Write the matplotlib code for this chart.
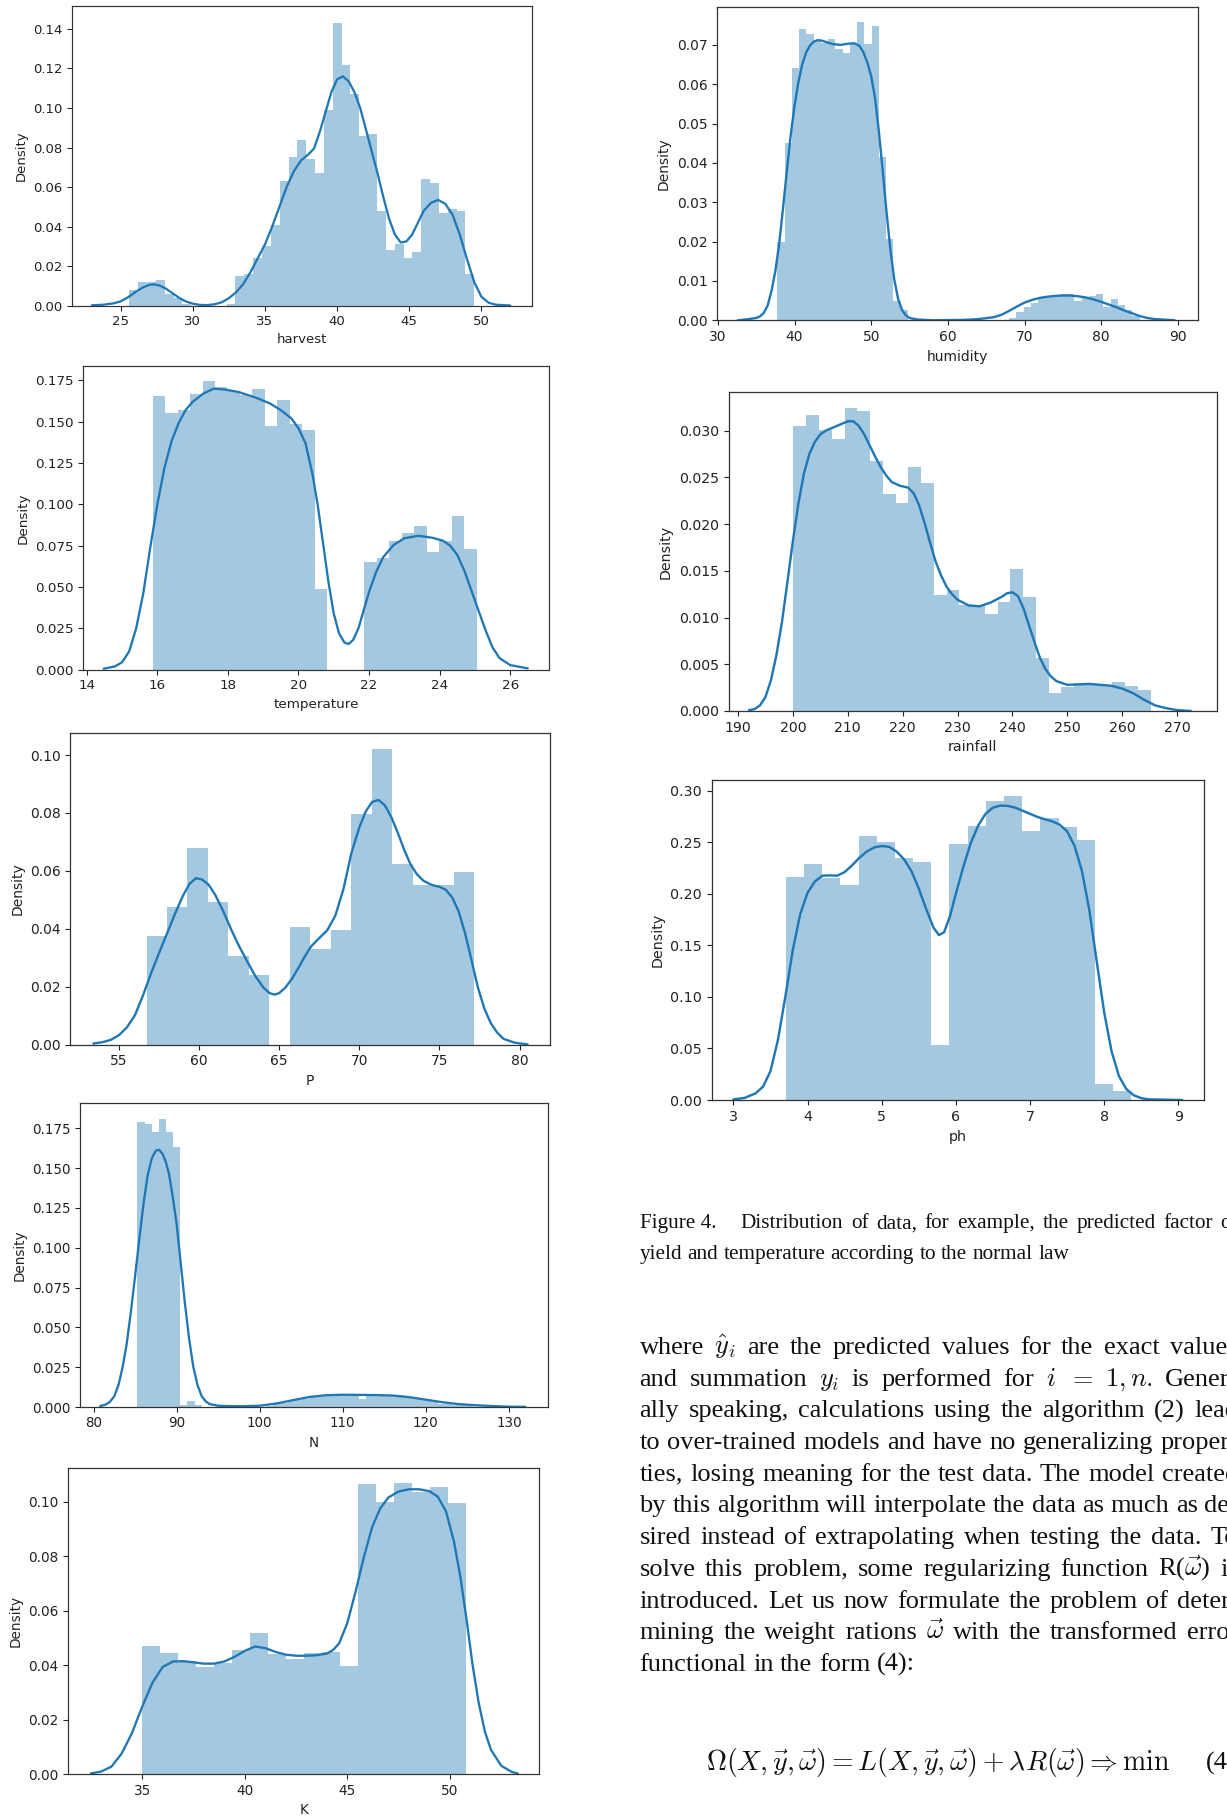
import matplotlib
matplotlib.use("Agg")
import matplotlib.pyplot as plt

plt.rcParams["mathtext.fontset"] = "cm"

W, H = 1227, 1817
BLUE = "#1f77b4"

# ---------------- histogram + KDE data (density units) ----------------
harvest_bin_start = 25.6
harvest_bin_width = 0.613
harvest_density = [0.008, 0.012, 0.012, 0.013, 0.006, 0.004, 0.001, 0, 0, 0,
                   0, 0.001, 0.015, 0.016, 0.024, 0.030, 0.041, 0.063, 0.075, 0.084,
                   0.074, 0.067, 0.099, 0.143, 0.122, 0.107, 0.086, 0.087, 0.048, 0.028,
                   0.031, 0.024, 0.027, 0.064, 0.062, 0.047, 0.049, 0.048, 0.016]
harvest_kde_x = [23.0, 23.8, 24.5, 25.0, 25.5, 26.0, 26.5, 27.0, 27.3, 27.7, 28.1, 28.5,
                 29.0, 29.5, 30.0, 30.5, 31.0, 31.5, 32.0, 32.5, 33.0, 33.5, 34.0, 34.5,
                 35.0, 35.5, 36.0, 36.5, 37.0, 37.5, 38.0, 38.4, 38.8, 39.2, 39.6, 40.0,
                 40.4, 40.8, 41.2, 41.6, 42.0, 42.4, 42.8, 43.2, 43.6, 44.0, 44.4, 44.8,
                 45.2, 45.6, 46.0, 46.5, 47.0, 47.5, 48.0, 48.5, 49.0, 49.5, 50.0, 50.5,
                 51.0, 52.0]
harvest_kde_y = [0.0002, 0.0005, 0.0012, 0.0022, 0.0042, 0.0068, 0.0091, 0.0106, 0.0108,
                 0.0102, 0.0088, 0.0068, 0.0042, 0.0022, 0.0010, 0.0004, 0.0003, 0.0007,
                 0.0017, 0.0038, 0.0068, 0.011, 0.017, 0.024, 0.031, 0.040, 0.050, 0.060,
                 0.068, 0.0735, 0.0765, 0.0795, 0.088, 0.098, 0.108, 0.1145, 0.116, 0.1135,
                 0.108, 0.100, 0.089, 0.078, 0.067, 0.055, 0.044, 0.036, 0.032, 0.0325,
                 0.036, 0.042, 0.048, 0.052, 0.0535, 0.0515, 0.046, 0.036, 0.0235, 0.012,
                 0.0045, 0.0015, 0.0005, 0.0001]
harvest_xticks = [25, 30, 35, 40, 45, 50]
harvest_yticks = [0.00, 0.02, 0.04, 0.06, 0.08, 0.10, 0.12, 0.14]

humidity_bin_start = 37.76
humidity_bin_width = 0.945
humidity_density = [0.020, 0.045, 0.064, 0.074, 0.0728, 0.071, 0.0705, 0.0715, 0.069, 0.068,
                    0.0705, 0.0757, 0.0703, 0.0747, 0.0415, 0.0207, 0.0049, 0.0027, 0, 0,
                    0, 0, 0, 0, 0, 0, 0, 0, 0, 0,
                    0, 0, 0.0005, 0.002, 0.0035, 0.0045, 0.0058, 0.0058, 0.006, 0.0067,
                    0.0068, 0.005, 0.006, 0.0062, 0.0066, 0.0033, 0.0055, 0.004, 0.0025, 0.0012]
humidity_kde_x = [32.6, 34.0, 35.0, 35.5, 36.0, 36.5, 37.0, 37.5, 38.0, 38.5, 39.0, 39.5,
                  40.0, 40.5, 41.0, 41.5, 42.0, 42.5, 43.0, 43.5, 44.0, 45.0, 46.0, 47.0,
                  47.8, 48.5, 49.0, 49.5, 50.0, 50.5, 51.0, 51.5, 52.0, 52.5, 53.0, 53.5,
                  54.0, 54.5, 55.0, 56.0, 58.0, 62.0, 64.0, 66.0, 67.0, 68.0, 69.0, 70.0,
                  71.0, 72.0, 73.0, 74.0, 75.0, 76.0, 77.0, 78.0, 79.0, 80.0, 81.0, 82.0,
                  83.0, 84.0, 85.0, 86.0, 87.0, 88.0, 89.6]
humidity_kde_y = [0.0, 0.0003, 0.0006, 0.001, 0.0019, 0.0038, 0.0075, 0.0125, 0.0195,
                  0.0285, 0.038, 0.047, 0.0545, 0.0605, 0.065, 0.068, 0.0698, 0.0708, 0.0712,
                  0.0711, 0.0708, 0.0702, 0.0700, 0.0703, 0.0704, 0.0697, 0.068, 0.0655,
                  0.062, 0.0565, 0.048, 0.038, 0.0275, 0.018, 0.0105, 0.0055, 0.0027,
                  0.0013, 0.0006, 0.0002, 0.0, 0.0001, 0.0003, 0.0008, 0.0014, 0.0024,
                  0.0035, 0.0045, 0.0052, 0.0057, 0.006, 0.0062, 0.0063, 0.0063, 0.0061,
                  0.0058, 0.0053, 0.0047, 0.004, 0.0033, 0.0025, 0.0018, 0.0011, 0.0006,
                  0.0003, 0.0002, 0.0]
humidity_xticks = [30, 40, 50, 60, 70, 80, 90]
humidity_yticks = [0.00, 0.01, 0.02, 0.03, 0.04, 0.05, 0.06, 0.07]

temperature_bin_start = 15.87
temperature_bin_width = 0.353
temperature_density = [0.1655, 0.1554, 0.157, 0.167, 0.1746, 0.1708, 0.1688, 0.166, 0.1696,
                       0.1476, 0.163, 0.1486, 0.1452, 0.0486, 0, 0, 0, 0.0653, 0.0675,
                       0.0778, 0.0829, 0.0871, 0.0712, 0.0778, 0.0929, 0.0728]
temperature_kde_x = [14.48, 14.8, 15.0, 15.2, 15.4, 15.6, 15.8, 16.0, 16.2, 16.4, 16.6,
                     16.8, 17.0, 17.3, 17.6, 17.9, 18.3, 18.8, 19.2, 19.5, 19.8, 20.0,
                     20.2, 20.4, 20.55, 20.7, 20.85, 21.0, 21.15, 21.3, 21.42, 21.55, 21.7,
                     21.85, 22.0, 22.2, 22.4, 22.7, 23.0, 23.4, 23.8, 24.1, 24.3, 24.5,
                     24.7, 24.9, 25.1, 25.3, 25.5, 25.7, 26.0, 26.5]
temperature_kde_y = [0.0006, 0.002, 0.0045, 0.011, 0.025, 0.046, 0.074, 0.100, 0.122,
                     0.138, 0.149, 0.157, 0.162, 0.167, 0.170, 0.1695, 0.168, 0.1645, 0.161,
                     0.157, 0.152, 0.146, 0.137, 0.118, 0.099, 0.076, 0.053, 0.034, 0.022,
                     0.0165, 0.0155, 0.018, 0.025, 0.036, 0.047, 0.059, 0.068, 0.0755,
                     0.0795, 0.081, 0.0798, 0.078, 0.075, 0.0695, 0.060, 0.048, 0.036, 0.024,
                     0.0135, 0.007, 0.0028, 0.0008]
temperature_xticks = [14, 16, 18, 20, 22, 24, 26]
temperature_yticks = [0.000, 0.025, 0.050, 0.075, 0.100, 0.125, 0.150, 0.175]

rainfall_bin_start = 200.1
rainfall_bin_width = 2.325
rainfall_density = [0.0305, 0.0317, 0.0301, 0.0291, 0.0324, 0.0321, 0.0268, 0.0232, 0.0223,
                    0.0261, 0.0244, 0.0124, 0.0130, 0.0113, 0.0113, 0.0104, 0.0117, 0.0152,
                    0.0122, 0.0057, 0.0019, 0.0026, 0.0029, 0.0029, 0.0027, 0.0031, 0.0027,
                    0.0022]
rainfall_kde_x = [192, 193, 194, 195, 196, 197, 198, 199, 200, 201, 202, 203, 204, 205, 206,
                  208, 210, 211, 212, 213, 214, 215, 216, 217, 218, 219.5, 221, 222, 223,
                  224, 225, 226, 227, 228, 229, 230, 232, 234, 236, 238, 239, 240, 241, 242,
                  243, 244, 245, 246, 247, 248, 250, 254, 258, 260, 262, 264, 266, 268, 270,
                  272.5]
rainfall_kde_y = [0.0001, 0.0002, 0.0006, 0.0015, 0.0033, 0.006, 0.0095, 0.0138, 0.0182,
                  0.0222, 0.0254, 0.0275, 0.0288, 0.0296, 0.0300, 0.0305, 0.031, 0.031,
                  0.0305, 0.0296, 0.0284, 0.0272, 0.0261, 0.0252, 0.0245, 0.0241, 0.0239,
                  0.0233, 0.022, 0.0201, 0.018, 0.016, 0.0145, 0.0133, 0.0125, 0.0119,
                  0.0113, 0.0112, 0.0116, 0.0122, 0.0126, 0.0127, 0.0123, 0.011, 0.0092,
                  0.0074, 0.0057, 0.0045, 0.0037, 0.0032, 0.0028, 0.0029, 0.0027, 0.0024,
                  0.0019, 0.0012, 0.0006, 0.0003, 0.0001, 0.0]
rainfall_xticks = [190, 200, 210, 220, 230, 240, 250, 260, 270]
rainfall_yticks = [0.000, 0.005, 0.010, 0.015, 0.020, 0.025, 0.030]

p_bin_start = 56.72
p_bin_width = 1.278
p_density = [0.0375, 0.0474, 0.0678, 0.0494, 0.0306, 0.0242, 0, 0.0405, 0.0331, 0.0396,
             0.0795, 0.1022, 0.0623, 0.055, 0.055, 0.0597]
p_kde_x = [53.4, 54.0, 54.5, 55.0, 55.5, 56.0, 56.5, 57.0, 57.5, 58.0, 58.5, 59.0, 59.4,
           59.8, 60.2, 60.6, 61.0, 61.5, 62.0, 62.5, 63.0, 63.5, 64.0, 64.4, 64.7, 65.0,
           65.4, 65.8, 66.2, 66.6, 67.0, 67.5, 68.0, 68.5, 69.0, 69.5, 70.0, 70.4, 70.8,
           71.2, 71.6, 72.0, 72.4, 72.8, 73.2, 73.6, 74.0, 74.5, 75.0, 75.4, 75.8, 76.2,
           76.6, 77.0, 77.4, 77.8, 78.2, 78.6, 79.0, 79.7, 80.5]
p_kde_y = [0.0004, 0.0009, 0.0017, 0.0033, 0.006, 0.0102, 0.017, 0.0246, 0.0316, 0.0384,
           0.0452, 0.0515, 0.0555, 0.0575, 0.057, 0.0552, 0.0518, 0.0462, 0.0398, 0.034,
           0.0288, 0.0238, 0.0198, 0.0178, 0.0173, 0.0178, 0.0198, 0.0228, 0.0265, 0.0305,
           0.034, 0.0368, 0.0395, 0.0445, 0.0535, 0.066, 0.075, 0.0805, 0.0838, 0.0845,
           0.0826, 0.0785, 0.0732, 0.0673, 0.0622, 0.0588, 0.0566, 0.0552, 0.0545, 0.0535,
           0.0508, 0.046, 0.0385, 0.0292, 0.0198, 0.0125, 0.0075, 0.0042, 0.002, 0.0007,
           0.0001]
p_xticks = [55, 60, 65, 70, 75, 80]
p_yticks = [0.00, 0.02, 0.04, 0.06, 0.08, 0.10]

ph_bin_start = 3.709
ph_bin_width = 0.245
ph_density = [0.2166, 0.2288, 0.2149, 0.2085, 0.2563, 0.2505, 0.235, 0.2311, 0.053, 0.2479,
              0.266, 0.2902, 0.2948, 0.2608, 0.2731, 0.265, 0.2521, 0.0152, 0.009]
ph_kde_x = [3.0, 3.15, 3.3, 3.4, 3.5, 3.6, 3.7, 3.8, 3.9, 4.0, 4.1, 4.2, 4.3, 4.4, 4.5, 4.6,
            4.7, 4.8, 4.9, 5.0, 5.1, 5.2, 5.3, 5.4, 5.5, 5.6, 5.7, 5.77, 5.84, 5.92, 6.0,
            6.1, 6.2, 6.3, 6.4, 6.5, 6.6, 6.7, 6.8, 6.9, 7.0, 7.1, 7.2, 7.3, 7.4, 7.5, 7.6,
            7.7, 7.8, 7.9, 8.0, 8.1, 8.2, 8.3, 8.4, 8.5, 8.6, 9.05]
ph_kde_y = [0.0006, 0.002, 0.0065, 0.013, 0.028, 0.058, 0.100, 0.145, 0.180, 0.201, 0.212,
            0.2175, 0.2178, 0.2175, 0.221, 0.2275, 0.235, 0.241, 0.245, 0.2463, 0.2455,
            0.241, 0.2335, 0.222, 0.205, 0.185, 0.167, 0.160, 0.1625, 0.178, 0.200, 0.226,
            0.249, 0.266, 0.2775, 0.2835, 0.2855, 0.2852, 0.2835, 0.2805, 0.2775, 0.2745,
            0.2722, 0.2702, 0.267, 0.2605, 0.2465, 0.222, 0.184, 0.134, 0.085, 0.047,
            0.023, 0.0105, 0.0045, 0.0018, 0.0006, 0.0]
ph_xticks = [3, 4, 5, 6, 7, 8, 9]
ph_yticks = [0.00, 0.05, 0.10, 0.15, 0.20, 0.25, 0.30]

n_bin_start = 85.29
n_bin_width = 0.86
n_density = [0.179, 0.178, 0.1725, 0.181, 0.1725, 0.163, 0.0015, 0.0035, 0.0015, 0,
             0, 0, 0, 0, 0, 0, 0, 0.0003, 0.0008, 0.0017,
             0.0025, 0.0035, 0.0045, 0.005, 0.0062, 0.0075, 0.0076, 0.0075, 0.0075, 0.0072,
             0.0075, 0.005, 0.0072, 0.0074, 0.0074, 0.0076, 0.0073, 0.006, 0.0055, 0.005,
             0.0048, 0.004, 0.002, 0.0018, 0.0015, 0.001, 0.0005, 0.0003, 0.0002, 0.0002]
n_kde_x = [80.8, 81.5, 82.0, 82.5, 83.0, 83.5, 84.0, 84.5, 85.0, 85.5, 86.0, 86.5, 87.0,
           87.5, 87.9, 88.3, 88.7, 89.1, 89.5, 90.0, 90.5, 91.0, 91.5, 92.0, 92.5, 93.0,
           93.5, 94.0, 95.0, 96.0, 98.0, 100.0, 102.0, 104.0, 106.0, 108.0, 110.0, 112.0,
           114.0, 116.0, 118.0, 120.0, 122.0, 124.0, 126.0, 128.0, 130.0, 132.0]
n_kde_y = [0.0006, 0.0016, 0.0034, 0.0068, 0.0138, 0.025, 0.040, 0.060, 0.082, 0.105,
           0.127, 0.145, 0.156, 0.161, 0.1615, 0.159, 0.154, 0.146, 0.133, 0.115, 0.090,
           0.065, 0.043, 0.0255, 0.014, 0.007, 0.0035, 0.0018, 0.0008, 0.0006, 0.0005,
           0.0008, 0.0022, 0.0043, 0.0063, 0.0074, 0.0077, 0.0076, 0.0075, 0.0072, 0.0062,
           0.0046, 0.003, 0.0018, 0.0011, 0.0006, 0.0002, 0.0001]
n_xticks = [80, 90, 100, 110, 120, 130]
n_yticks = [0.000, 0.025, 0.050, 0.075, 0.100, 0.125, 0.150, 0.175]

k_bin_start = 34.97
k_bin_width = 0.877
k_density = [0.047, 0.0444, 0.0415, 0.0394, 0.0409, 0.0455, 0.0517, 0.0441, 0.0421, 0.0443,
             0.0446, 0.0398, 0.1064, 0.100, 0.1067, 0.1034, 0.1053, 0.0996]
k_kde_x = [32.5, 33.0, 33.5, 34.0, 34.5, 35.0, 35.5, 36.0, 36.5, 37.0, 37.5, 38.0, 38.5,
           39.0, 39.5, 40.0, 40.5, 41.0, 41.5, 42.0, 42.5, 43.0, 43.5, 44.0, 44.3, 44.6,
           45.0, 45.4, 45.8, 46.2, 46.6, 47.0, 47.5, 48.0, 48.5, 49.0, 49.4, 49.8, 50.2,
           50.5, 50.8, 51.1, 51.4, 51.7, 52.0, 52.5, 53.0, 53.3]
k_kde_y = [0.0002, 0.0009, 0.0027, 0.0075, 0.015, 0.0247, 0.0335, 0.0393, 0.0413, 0.0414,
           0.041, 0.0405, 0.0405, 0.0413, 0.043, 0.0452, 0.0468, 0.0462, 0.0448, 0.0438,
           0.0434, 0.0434, 0.0436, 0.0442, 0.0455, 0.048, 0.0555, 0.067, 0.0795, 0.0905,
           0.0975, 0.1015, 0.1037, 0.1045, 0.1045, 0.1038, 0.1018, 0.0965, 0.085, 0.0725,
           0.057, 0.040, 0.026, 0.0155, 0.0088, 0.003, 0.0008, 0.0002]
k_xticks = [35, 40, 45, 50]
k_yticks = [0.00, 0.02, 0.04, 0.06, 0.08, 0.10]

# ---------------- page layout: axes boxes in pixels (left, right, top, bottom) ----------------
panels = [
    ("harvest", harvest_bin_start, harvest_bin_width, harvest_density, harvest_kde_x,
     harvest_kde_y, harvest_xticks, harvest_yticks, (71.6, 531.5, 6.0, 305.7), (21.6, 53.47), 0.1516),
    ("humidity", humidity_bin_start, humidity_bin_width, humidity_density, humidity_kde_x,
     humidity_kde_y, humidity_xticks, humidity_yticks, (717.1, 1197.8, 6.7, 320.3), (29.9, 92.6), 0.0797),
    ("temperature", temperature_bin_start, temperature_bin_width, temperature_density,
     temperature_kde_x, temperature_kde_y, temperature_xticks, temperature_yticks,
     (82.9, 549.3, 366.0, 669.7), (13.89, 27.11), 0.1837),
    ("rainfall", rainfall_bin_start, rainfall_bin_width, rainfall_density, rainfall_kde_x,
     rainfall_kde_y, rainfall_xticks, rainfall_yticks, (728.7, 1216.6, 392.3, 711.0), (188.3, 277.2), 0.0341),
    ("P", p_bin_start, p_bin_width, p_density, p_kde_x, p_kde_y, p_xticks, p_yticks,
     (70.4, 550.0, 733.3, 1044.7), (51.97, 81.9), 0.1075),
    ("ph", ph_bin_start, ph_bin_width, ph_density, ph_kde_x, ph_kde_y, ph_xticks, ph_yticks,
     (711.9, 1204.3, 780.0, 1100.0), (2.71, 9.35), 0.3103),
    ("N", n_bin_start, n_bin_width, n_density, n_kde_x, n_kde_y, n_xticks, n_yticks,
     (80.0, 548.2, 1103.3, 1407.0), (78.37, 134.73), 0.1907),
    ("K", k_bin_start, k_bin_width, k_density, k_kde_x, k_kde_y, k_xticks, k_yticks,
     (67.9, 539.3, 1468.3, 1774.0), (31.38, 54.35), 0.1122),
]

fig = plt.figure(figsize=(W / 100, H / 100), dpi=100)
fig.patch.set_facecolor("white")

for (name, b0, bw, dens, kx, ky, xt, yt, box, xlim, ytop) in panels:
    left, right, top, bottom = box
    s = (right - left) / 481.0
    ax = fig.add_axes([left / W, 1 - bottom / H, (right - left) / W, (bottom - top) / H])
    edges = [b0 + i * bw for i in range(len(dens))]
    ax.bar(edges, dens, width=bw, align="edge", color=BLUE, alpha=0.4, linewidth=0)
    ax.plot(kx, ky, color=BLUE, lw=1.7 * s, solid_joinstyle="round", solid_capstyle="round")
    ax.set_xlim(*xlim)
    ax.set_ylim(0, ytop)
    ax.set_xticks(xt)
    ax.set_yticks(yt)
    ax.tick_params(labelsize=10 * s, length=3.5 * s, width=0.8 * s, pad=3.5 * s,
                   colors="#222222")
    for sp in ax.spines.values():
        sp.set_linewidth(0.9 * s)
        sp.set_color("#333333")
    ax.set_xlabel(name, fontsize=10 * s, labelpad=4 * s, color="#222222")
    ax.set_ylabel("Density", fontsize=10 * s, labelpad=4 * s, color="#222222")

# ---------------- caption and body text ----------------
SERIF = "Liberation Serif"
BODY_PT = 19.0
CAP_PT = 15.3
X0, X1 = 639.5, 1238.0
renderer = fig.canvas.get_renderer()


def place_line(words, y_center, size, justify=True, lead_gap=0.0):
    em = size * 100 / 72
    y_base = y_center + 0.3 * em
    items = [fig.text(0, 1 - y_base / H, w, fontsize=size, family=SERIF,
                      va="baseline", ha="left", color="#111111") for w in words]
    widths = [t.get_window_extent(renderer).width for t in items]
    if justify and len(words) > 1:
        gap = (X1 - X0 - sum(widths) - lead_gap) / (len(words) - 1)
    else:
        gap = 0.25 * em
    x = X0
    for i, (t, w) in enumerate(zip(items, widths)):
        t.set_x(x / W)
        x += w + gap + (lead_gap if i == 0 else 0.0)


caption = [
    ["Figure 4.", "Distribution", "of", "data,", "for", "example,", "the", "predicted",
     "factor", "of"],
    ["yield", "and", "temperature", "according", "to", "the", "normal", "law"],
]
place_line(caption[0], 1221.7, CAP_PT, justify=True, lead_gap=17)
place_line(caption[1], 1252.7, CAP_PT, justify=False)

body = [
    ["where", r"$\hat{y}_i$", "are", "the", "predicted", "values", "for", "the", "exact",
     "values"],
    ["and", "summation", r"$y_i$", "is", "performed", "for", r"$i$", r"$=$", r"$1,n.$",
     "Gener-"],
    ["ally", "speaking,", "calculations", "using", "the", "algorithm", "(2)", "lead"],
    ["to", "over-trained", "models", "and", "have", "no", "generalizing", "proper-"],
    ["ties,", "losing", "meaning", "for", "the", "test", "data.", "The", "model", "created"],
    ["by", "this", "algorithm", "will", "interpolate", "the", "data", "as", "much", "as", "de-"],
    ["sired", "instead", "of", "extrapolating", "when", "testing", "the", "data.", "To"],
    ["solve", "this", "problem,", "some", "regularizing", "function", r"R($\vec{\omega}$)", "is"],
    ["introduced.", "Let", "us", "now", "formulate", "the", "problem", "of", "deter-"],
    ["mining", "the", "weight", "rations", r"$\vec{\omega}$", "with", "the", "transformed",
     "error"],
    ["functional", "in", "the", "form", "(4):"],
]
for k, words in enumerate(body):
    place_line(words, 1346.0 + 31.7 * k, BODY_PT, justify=(k < len(body) - 1))

EQ_PT = 20.0
eq_base = 1761.7 + 0.3 * EQ_PT * 100 / 72
fig.text(706 / W, 1 - eq_base / H,
         r"$\Omega(X,\vec{y},\vec{\omega}) = L(X,\vec{y},\vec{\omega}) + \lambda R(\vec{\omega})"
         r" \Rightarrow \min$",
         fontsize=EQ_PT, va="baseline", ha="left", color="#111111")
fig.text(1206 / W, 1 - eq_base / H, "(4)", fontsize=BODY_PT, family=SERIF,
         va="baseline", ha="left", color="#111111")

fig.savefig("out.png", dpi=100, facecolor="white")
